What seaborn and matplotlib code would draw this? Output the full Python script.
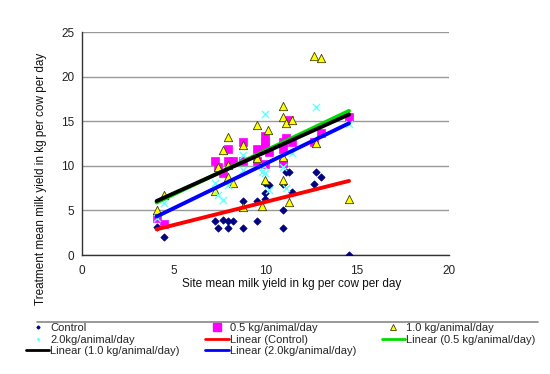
import matplotlib
matplotlib.use('agg')

import matplotlib.pyplot as plt
import seaborn as sns
import pandas as pd
from matplotlib.lines import Line2D

# site mean yield (x) vs treatment mean yield (y), kg/cow/day
ctrl_x = [4.07, 4.48, 7.26, 7.39, 7.71, 7.97, 7.97, 8.22, 8.78, 8.78, 9.56, 9.56, 9.96, 9.96,
          9.96, 10.05, 10.2, 9.8, 10.96, 10.96, 10.96, 11.1, 11.3, 11.45, 12.63, 12.74, 13.05, 14.56]
ctrl_y = [3.13, 2.05, 3.77, 3.0, 3.9, 3.77, 3.0, 3.77, 6.04, 3.0, 3.77, 6.04, 6.94, 6.3,
          8.06, 8.06, 7.9, 11.9, 5.0, 3.0, 8.0, 9.36, 9.36, 7.1, 7.98, 9.36, 8.73, 0.04]

half_x = [4.07, 4.48, 7.26, 7.39, 7.71, 7.97, 7.97, 8.22, 8.78, 8.78, 9.56, 9.56, 9.96,
          9.96, 9.96, 9.96, 10.2, 10.96, 10.96, 10.96, 11.1, 11.3, 11.45, 12.63, 13.05, 14.56]
half_y = [4.14, 3.5, 10.5, 9.9, 9.2, 11.87, 10.5, 10.5, 12.7, 10.5, 11.87, 10.5, 13.3,
          12.7, 12.2, 10.2, 11.6, 12.7, 11.87, 10.3, 13.1, 15.15, 12.7, 12.7, 13.65, 15.5]

one_x = [4.07, 4.48, 7.26, 7.39, 7.71, 7.97, 7.97, 7.97, 8.22, 8.78, 8.78, 9.56, 9.56, 9.8,
         9.96, 10.15, 10.96, 10.96, 10.96, 10.96, 11.1, 11.3, 11.47, 12.63, 13.05, 12.74, 14.56]
one_y = [5.0, 6.75, 7.24, 9.9, 11.8, 13.2, 8.8, 10.1, 8.06, 12.4, 5.37, 14.6, 10.86, 5.45,
         8.43, 14.0, 16.7, 15.45, 8.43, 11.0, 14.85, 6.0, 15.2, 22.3, 22.1, 12.6, 6.27]

two_x = [4.07, 4.48, 7.26, 7.39, 7.71, 7.97, 8.78, 8.78, 9.8, 9.9, 9.96, 9.96, 10.2,
         10.96, 11.1, 11.45, 12.74, 14.56]
two_y = [4.2, 5.8, 8.06, 6.75, 6.2, 7.87, 11.2, 9.55, 9.36, 10.0, 15.8, 9.2, 7.3,
         9.9, 7.5, 11.4, 16.57, 14.7]

names = ['Control', '0.5 kg/animal/day', '1.0 kg/animal/day', '2.0kg/animal/day']
fit_names = ['Linear (Control)', 'Linear (0.5 kg/animal/day)',
             'Linear (1.0 kg/animal/day)', 'Linear (2.0kg/animal/day)']
x_ticks = [0, 5, 10, 15, 20]
y_ticks = [0, 5, 10, 15, 20, 25]

sns.set_style('white')
plt.rcParams['font.family'] = ['Liberation Sans', 'DejaVu Sans']

fig = plt.figure(figsize=(5.5, 3.74), dpi=100)
ax = fig.add_axes([0.149, 0.318, 0.667, 0.596])

series = [(ctrl_x, ctrl_y), (half_x, half_y), (one_x, one_y), (two_x, two_y)]
styles = [dict(marker='D', s=14, color='#000080', edgecolor='#000080', linewidth=0.5),
          dict(marker='s', s=40, color='#ff00ff', edgecolor='#ff00ff', linewidth=0.5),
          dict(marker='^', s=36, color='#ffff00', edgecolor='#404000', linewidth=0.6),
          dict(marker='x', s=26, color='#66ffff', linewidth=1.0)]
line_cols = ['#ff0000', '#00dd00', '#000000', '#0000ff']

for (xs, ys), st in zip(series, styles):
    df = pd.DataFrame({'x': xs, 'y': ys})
    sns.scatterplot(data=df, x='x', y='y', ax=ax, zorder=3, **st)

for (xs, ys), c in zip(series, line_cols):
    df = pd.DataFrame({'x': xs, 'y': ys})
    sns.regplot(data=df, x='x', y='y', ax=ax, scatter=False, ci=None, truncate=True,
                line_kws=dict(color=c, lw=2.8, zorder=4))

ax.set_xlim(0, 20)
ax.set_ylim(0, 25)
ax.set_xticks(x_ticks)
ax.set_yticks(y_ticks)
ax.yaxis.grid(True, color='#999999', lw=1.0)
ax.xaxis.grid(False)
for s in ['top', 'right']:
    ax.spines[s].set_visible(False)
for s in ['left', 'bottom']:
    ax.spines[s].set_color('#333333')
    ax.spines[s].set_linewidth(1.0)
ax.tick_params(direction='inout', length=5, width=1, color='#333333',
               labelsize=8.5, labelcolor='#222222', pad=3)
ax.tick_params(axis='x', pad=5)

ax.set_xlabel('Site mean milk yield in kg per cow per day', fontsize=8.5, color='#111111')
ax.xaxis.set_label_coords(0.572, -0.105)
ax.set_ylabel('Treatment mean milk yield in kg per cow per day', fontsize=8.5, color='#111111')
ax.yaxis.set_label_coords(-0.095, 0.34)

# legend, row-major like the original -> reorder for column fill
handles = [
    Line2D([], [], ls='none', marker='D', ms=1.5, color='#000080'),
    Line2D([], [], ls='none', marker='x', ms=1.5, color='#66ffff'),
    Line2D([], [], color=line_cols[2], lw=2),
    Line2D([], [], ls='none', marker='s', ms=5.5, color='#ff00ff'),
    Line2D([], [], color=line_cols[0], lw=2),
    Line2D([], [], color=line_cols[3], lw=2),
    Line2D([], [], ls='none', marker='^', ms=5, mfc='#ffff00', mec='#404000', mew=0.6),
    Line2D([], [], color=line_cols[1], lw=2),
]
labels = [names[0], names[3], fit_names[2], names[1], fit_names[0], fit_names[3],
          names[2], fit_names[1]]
fig.legend(handles, labels, ncol=3, loc='upper left', bbox_to_anchor=(0.047, 1 - 323 / 374),
           frameon=False, fontsize=8, handlelength=2.1, handletextpad=0.1,
           columnspacing=2.3, labelspacing=0.15, borderpad=0, borderaxespad=0)
fig.add_artist(Line2D([37 / 550, 538 / 550], [1 - 322 / 374] * 2, color='#888888', lw=1.2))

plt.savefig('out.png', dpi=100)
